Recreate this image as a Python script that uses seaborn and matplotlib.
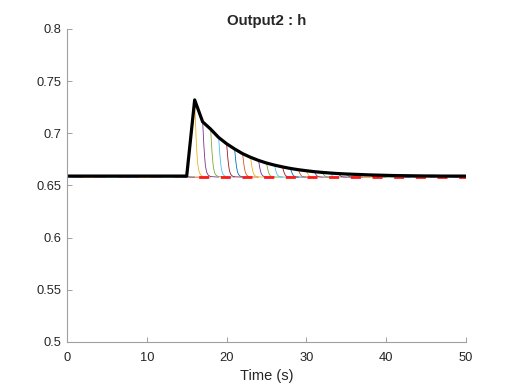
import numpy as np
import pandas as pd
import matplotlib
matplotlib.use("Agg")
import matplotlib.pyplot as plt
import seaborn as sns

# measured output (black), one sample per second
time_s = list(range(0, 51))
output_h = [0.659] * 16 + [
    0.732, 0.711, 0.704, 0.696, 0.690, 0.685, 0.6805, 0.677, 0.674, 0.6715,
    0.6695, 0.6678, 0.6663, 0.6651, 0.6641, 0.6632, 0.6625, 0.6619, 0.6614, 0.661,
    0.6607, 0.6604, 0.6601, 0.6599, 0.6597, 0.6595, 0.6594, 0.6593, 0.6592, 0.6591,
    0.6591, 0.659, 0.659, 0.659, 0.659,
]

# reference / setpoint (dashed), shown from the disturbance onwards
ref_time = [15, 50]
ref_h = [0.658, 0.658]

# predicted trajectories started at each step: offsets and relative shape
pred_offsets = [0.0, 0.08, 0.16, 0.25, 0.35, 0.5, 0.7, 1.0, 2.0]
pred_shape = [1.0, 0.78, 0.55, 0.36, 0.2, 0.09, 0.035, 0.01, 0.0]
pred_base = 0.658

matlab_colors = ["#0072BD", "#D95319", "#EDB120", "#7E2F8E",
                 "#77AC30", "#4DBEEE", "#A2142F"]

rows = []
for k, (t0, y0) in enumerate(zip(time_s[:-1], output_h[:-1])):
    for dt, s in zip(pred_offsets, pred_shape):
        rows.append({"step": str(k), "t": t0 + dt,
                     "h": pred_base + (y0 - pred_base) * s})
pred_df = pd.DataFrame(rows)
pred_palette = [matlab_colors[k % 7] for k in range(len(time_s) - 1)]

sns.set_style("ticks")
plt.rcParams["font.family"] = ["Liberation Sans", "DejaVu Sans"]

fig = plt.figure(figsize=(5.15, 3.86), dpi=100)
ax = fig.add_axes([0.13, 0.114, 0.775, 0.811])

sns.lineplot(data=pred_df, x="t", y="h", hue="step", palette=pred_palette,
             estimator=None, sort=False, legend=False, linewidth=0.6, ax=ax)
sns.lineplot(x=ref_time, y=ref_h, color="#FF1A1A", linewidth=2.0, ax=ax)
ax.lines[-1].set_linestyle((3.6, (3.6, 4.2)))
sns.lineplot(x=time_s, y=output_h, color="black", linewidth=2.3,
             estimator=None, ax=ax)

ax.set_xlim(0, 50)
ax.set_ylim(0.5, 0.8)
ax.set_xticks([0, 10, 20, 30, 40, 50])
ax.set_yticks([0.5, 0.55, 0.6, 0.65, 0.7, 0.75, 0.8])
ax.set_yticklabels(["0.5", "0.55", "0.6", "0.65", "0.7", "0.75", "0.8"])
ax.tick_params(direction="in", length=3.5, width=0.7, colors="#a0a0a0",
               labelcolor="#262626", labelsize=9.3)
ax.tick_params(axis="x", pad=7.5)
ax.tick_params(axis="y", pad=4)

for side in ["top", "right"]:
    ax.spines[side].set_visible(False)
for side in ["left", "bottom"]:
    ax.spines[side].set_color("#a0a0a0")
    ax.spines[side].set_linewidth(0.8)

ax.set_xlabel("Time (s)", fontsize=10.5, color="#262626", labelpad=3)
ax.set_ylabel("")
ax.set_title("Output2 : h", fontsize=10.8, fontweight="bold", pad=3)

fig.savefig("out.png", dpi=100)
